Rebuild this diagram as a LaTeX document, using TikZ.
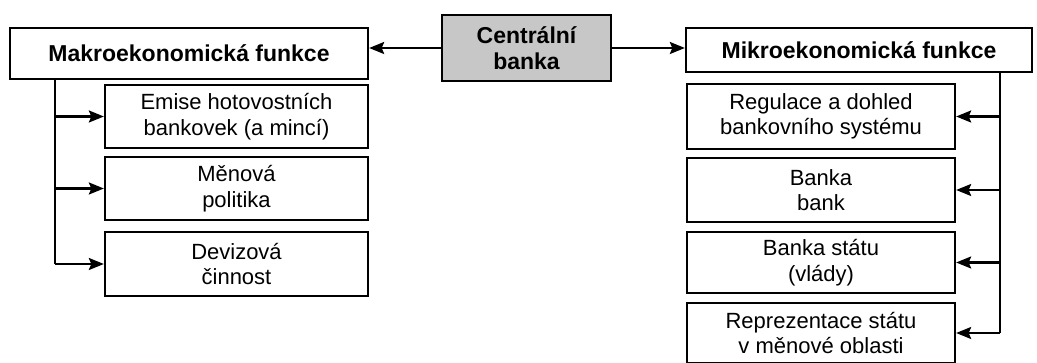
\documentclass[tikz,border=0pt]{standalone}
\usepackage{fontspec}
\setmainfont{Liberation Sans}
\usetikzlibrary{arrows.meta}
\begin{document}
\begin{tikzpicture}[x=1pt,y=-1pt,
  box/.style={draw=black, line width=2.3pt, fill=white, align=center, inner sep=0pt,
    font=\fontsize{22}{25.5}\selectfont},
  head/.style={box, font=\fontsize{23}{25.5}\selectfont\bfseries},
  central/.style={head, fill=black!22},
  arr/.style={line width=2.3pt, -{Stealth[length=15pt,width=12pt,inset=2.5pt]}},
  tree/.style={line width=2.3pt}]
\useasboundingbox (0,0) rectangle (1037,363);
% header row
\node[central, minimum width=169pt, minimum height=66pt] (cb) at (526.5,48) {Centrální\\banka};
\node[head, minimum width=358pt, minimum height=51pt] (makro) at (189,53.5) {Makroekonomická funkce};
\node[head, minimum width=346pt, minimum height=44pt] (mikro) at (859,50) {Mikroekonomická funkce};
% left column
\node[box, minimum width=263pt, minimum height=63pt] (l1) at (236.5,116.5) {Emise hotovostních\\bankovek (a mincí)};
\node[box, minimum width=263pt, minimum height=63pt] (l2) at (236.5,188.5) {Měnová\\politika};
\node[box, minimum width=263pt, minimum height=64pt] (l3) at (236.5,264) {Devizová\\činnost};
% right column
\node[box, minimum width=268pt, minimum height=65pt] (r1) at (821,116.5) {Regulace a dohled\\bankovního systému};
\node[box, minimum width=268pt, minimum height=64pt] (r2) at (821,190) {Banka\\bank};
\node[box, minimum width=268pt, minimum height=61pt] (r3) at (821,262.5) {Banka státu\\(vlády)};
\node[box, minimum width=268pt, minimum height=60pt] (r4) at (821,333) {Reprezentace státu\\v měnové oblasti};
% connectors from central bank
\draw[arr] (cb.west) -- (makro.east |- cb.west);
\draw[arr] (cb.east) -- (mikro.west |- cb.east);
% left tree
\coordinate (lx) at (55,0);
\draw[tree] (makro.south -| lx) -- (l3.west -| lx);
\draw[arr] (l1.west -| lx) -- (l1.west);
\draw[arr] (l2.west -| lx) -- (l2.west);
\draw[arr] (l3.west -| lx) -- (l3.west);
% right tree
\coordinate (rx) at (1000,0);
\draw[tree] (mikro.south -| rx) -- (r4.west -| rx);
\draw[arr] (r1.east -| rx) -- (r1.east);
\draw[arr] (r2.east -| rx) -- (r2.east);
\draw[arr] (r3.east -| rx) -- (r3.east);
\draw[arr] (r4.east -| rx) -- (r4.east);
\end{tikzpicture}
\end{document}
